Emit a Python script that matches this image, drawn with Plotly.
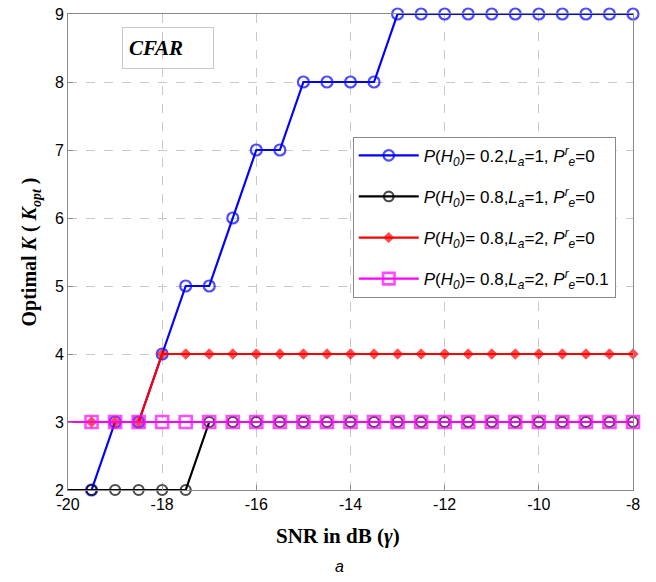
import plotly.graph_objects as go

snr = [-20, -19.5, -19, -18.5, -18, -17.5, -17, -16.5, -16, -15.5, -15, -14.5, -14,
       -13.5, -13, -12.5, -12, -11.5, -11, -10.5, -10, -9.5, -9, -8.5, -8]

k_blue = [2, 2, 3, 3, 4, 5, 5, 6, 7, 7, 8, 8, 8, 8, 9, 9, 9, 9, 9, 9, 9, 9, 9, 9, 9]
k_black = [2, 2, 2, 2, 2, 2, 3, 3, 3, 3, 3, 3, 3, 3, 3, 3, 3, 3, 3, 3, 3, 3, 3, 3, 3]
k_red = [3, 3, 3, 3, 4, 4, 4, 4, 4, 4, 4, 4, 4, 4, 4, 4, 4, 4, 4, 4, 4, 4, 4, 4, 4]
k_magenta = [3, 3, 3, 3, 3, 3, 3, 3, 3, 3, 3, 3, 3, 3, 3, 3, 3, 3, 3, 3, 3, 3, 3, 3, 3]

names = [
    "<i>P</i>(<i>H<sub>0</sub></i>)= 0.2,<i>L<sub>a</sub></i>=1, <i>P<sup>r</sup><sub>e</sub></i>=0",
    "<i>P</i>(<i>H<sub>0</sub></i>)= 0.8,<i>L<sub>a</sub></i>=1, <i>P<sup>r</sup><sub>e</sub></i>=0",
    "<i>P</i>(<i>H<sub>0</sub></i>)= 0.8,<i>L<sub>a</sub></i>=2, <i>P<sup>r</sup><sub>e</sub></i>=0",
    "<i>P</i>(<i>H<sub>0</sub></i>)= 0.8,<i>L<sub>a</sub></i>=2, <i>P<sup>r</sup><sub>e</sub></i>=0.1",
]

x_ticks = [-20, -18, -16, -14, -12, -10, -8]
y_ticks = [2, 3, 4, 5, 6, 7, 8, 9]

def sizes(n, s):
    return [0] + [s] * (n - 1)

fig = go.Figure()
n = len(snr)
fig.add_trace(go.Scatter(x=snr, y=k_blue, name=names[0], mode="lines+markers",
                         line=dict(color="#0000ff", width=2.2),
                         marker=dict(symbol="circle-open", size=sizes(n, 11), color="#0000ff",
                                     line=dict(width=2.2, color="#0000ff")),
                         legendgroup="a", cliponaxis=False))
fig.add_trace(go.Scatter(x=snr, y=k_black, name=names[1], mode="lines+markers",
                         line=dict(color="#000000", width=2.2),
                         marker=dict(symbol="circle-open", size=sizes(n, 10), color="#000000",
                                     line=dict(width=2.2, color="#000000")),
                         legendgroup="b", cliponaxis=False))
fig.add_trace(go.Scatter(x=snr, y=k_red, name=names[2], mode="lines+markers",
                         line=dict(color="#ff0000", width=2.2),
                         marker=dict(symbol="diamond", size=sizes(n, 8), color="#ff0000",
                                     line=dict(width=1, color="#ff0000")),
                         legendgroup="c", cliponaxis=False))
fig.add_trace(go.Scatter(x=snr, y=k_magenta, name=names[3], mode="lines+markers",
                         line=dict(color="#ff00ff", width=2.2),
                         marker=dict(symbol="square-open", size=sizes(n, 12), color="#ff00ff",
                                     line=dict(width=2.6, color="#ff00ff")),
                         legendgroup="d", cliponaxis=False))

axis_common = dict(showline=True, mirror=True, linecolor="#8a8a8a", linewidth=1,
                   showgrid=True, gridcolor="#c8c8c8", griddash="dash", gridwidth=1,
                   ticks="inside", ticklen=5, tickcolor="#8a8a8a", zeroline=False,
                   automargin=False,
                   tickfont=dict(family="Liberation Sans, Arial, sans-serif", size=16, color="#000"))

fig.update_xaxes(range=[-20, -8], tickvals=x_ticks, ticktext=[str(v) for v in x_ticks],
                 **axis_common)
fig.update_yaxes(range=[2, 9], tickvals=y_ticks, ticktext=[str(v) for v in y_ticks],
                 title=dict(text="<b>Optimal <i>K</i> ( <i>K<sub>opt</sub></i> )</b>", standoff=12,
                            font=dict(family="Liberation Serif, Times New Roman, serif", size=20, color="#000")),
                 **axis_common)

fig.update_layout(
    width=656, height=582,
    margin=dict(l=68, r=23, t=14, b=92),
    paper_bgcolor="white", plot_bgcolor="white",
    showlegend=True,
    legend=dict(x=0.504, y=0.742, xanchor="left", yanchor="top",
                bgcolor="white", bordercolor="#8a8a8a", borderwidth=1,
                font=dict(family="Liberation Sans, Arial, sans-serif", size=17, color="#000"),
                tracegroupgap=16, itemwidth=60),
    annotations=[
        dict(text="<b><i>CFAR</i></b>", xref="paper", yref="paper", x=0.0956, y=0.9727,
             xanchor="left", yanchor="top", showarrow=False, align="left",
             font=dict(family="Liberation Serif, Times New Roman, serif", size=21, color="#000"),
             bordercolor="#c8c8c8", borderwidth=1, borderpad=6, width=78, height=28),
        dict(text="<b>SNR in dB (<i>γ</i>)</b>", xref="paper", yref="paper", x=0.478, y=-0.0966,
             xanchor="center", yanchor="middle", showarrow=False,
             font=dict(family="Liberation Serif, Times New Roman, serif", size=21, color="#000")),
        dict(text="<i>a</i>", xref="paper", yref="paper", x=0.481, y=-0.16,
             xanchor="center", yanchor="middle", showarrow=False,
             font=dict(family="Liberation Sans, Arial, sans-serif", size=16, color="#000")),
    ],
)

fig.write_html("out.html")
